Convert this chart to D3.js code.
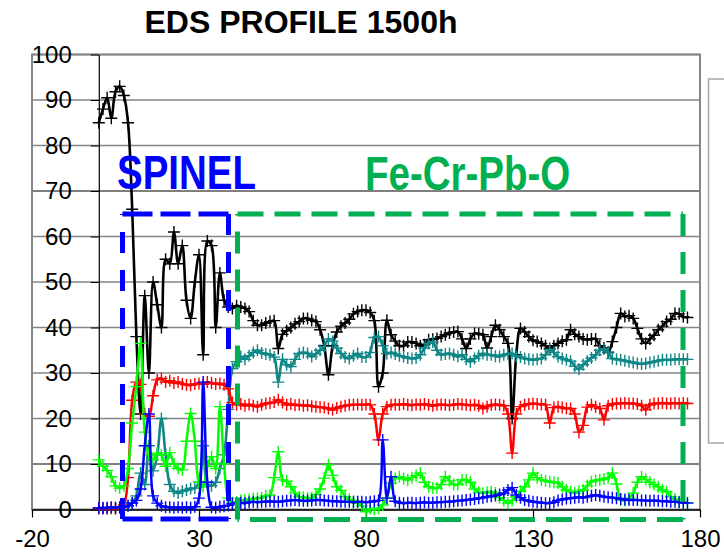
<!DOCTYPE html>
<html>
<head>
<meta charset="utf-8">
<script src="https://cdn.jsdelivr.net/npm/d3@7"></script>
<style>
  body { margin: 0; background: #fff; }
  svg { display: block; font-family: Arial, "Liberation Sans", sans-serif; }
</style>
</head>
<body>
<div class="container"></div>
<script>
// profile step (distance between two EDS points)
var xStep = 1.25;

var xTicks = [-20, 30, 80, 130, 180];
var yTicks = [0, 10, 20, 30, 40, 50, 60, 70, 80, 90, 100];

// values, one per point
var blackVals = [85, 88, 90.5, 86, 91.8, 93, 91, 85, 66, 38,
  21, 47, 30, 50, 45, 40, 55, 54, 61, 54,
  58, 46, 42, 50, 56, 34, 59, 58, 40, 52,
  46, 44.5, 44.2, 44.8, 44.5, 44.2, 43.5, 41.5, 40.5, 40.5,
  41, 41.3, 41.5, 35.4, 38.5, 39.3, 40, 40.8, 41.3, 42,
  42, 41.6, 41.3, 39.5, 36, 29.6, 36, 39, 40.3, 41,
  41.8, 43, 43.5, 43.8, 43.8, 43.3, 41.5, 27, 30, 41.6,
  38.4, 37, 36, 36, 36.8, 36.8, 36.5, 36, 36.2, 37.3,
  37.4, 37.6, 38, 38.4, 38.8, 39, 39.1, 37.5, 35.4, 37.5,
  38.7, 38.6, 38.4, 35.5, 38, 40.5, 39.5, 38, 36.5, 20,
  34, 39.8, 39, 38, 37.2, 36.9, 36.5, 36, 35.4, 36,
  36.5, 37, 37.3, 39.5, 38.5, 38, 37.5, 37.3, 37.5, 37.5,
  36, 35.5, 34.5, 36.9, 40, 43.1, 42.4, 42.6, 42, 39.8,
  37.5, 36.5, 37.5, 38.3, 39.5, 40.3, 41.3, 41.8, 43.1, 43,
  42.4, 42.2];

var tealVals = [0.3, 0.4, 0.3, 0.4, 0.3, 0.4, 0.5, 0.8, 1.5, 3,
  8, 5.5, 14, 8.5, 12, 20, 12, 5.5, 4, 3.6,
  4, 4.3, 4.6, 4.7, 6, 14, 5.5, 5.2, 6, 9,
  12, 22, 31, 32.5, 33.6, 33, 33.8, 34.5, 35, 34.4,
  34.2, 34, 33.5, 28, 33, 31.8, 31.4, 33, 34.3, 34.5,
  34.3, 33.6, 34.2, 35, 35.8, 37.5, 37, 35.5, 34.3, 33.5,
  33.2, 33.8, 34.3, 33.5, 33.5, 34.5, 37.8, 38, 36, 34.3,
  34.5, 34.2, 33.8, 33.6, 33.3, 33.2, 33.3, 34, 35.5, 36.5,
  36.8, 35, 34, 34.2, 34.3, 34, 33.6, 34, 33, 32.5,
  33.2, 33.8, 34.3, 34, 34, 33.7, 33.6, 34, 34.2, 34.3,
  33.7, 33.5, 33.2, 33, 32.9, 33, 33.2, 34, 35.2, 34.5,
  33.6, 33.2, 32.9, 32.6, 31.5, 30.8, 31.8, 32.6, 33.3, 34,
  35, 35.3, 34.6, 33.2, 33, 32.9, 32.7, 32.5, 32.3, 32.1,
  32, 32.1, 32.3, 32.5, 32.7, 32.9, 32.9, 32.9, 33, 33,
  33, 33];

var redVals = [0.2, 0.3, 0.2, 0.3, 0.2, 0.4, 1, 7, 24, 28,
  27.5, 21, 20.5, 25, 28.5, 28.8, 28, 28.3, 27.8, 28,
  27.6, 27.4, 27.3, 27.6, 27.7, 27.5, 28, 27.8, 27.6, 27.7,
  27.4, 26.5, 23.5, 23, 23.2, 22.8, 23.1, 22.8, 22.6, 23,
  23.3, 23.4, 23.6, 24.1, 23.5, 23, 23.2, 22.9, 23, 22.8,
  22.9, 22.7, 22.6, 22.5, 22.4, 22.2, 21.9, 22.3, 22.6, 22.8,
  23, 23, 23.1, 23, 23.1, 23, 21, 15.3, 21, 22.6,
  23, 23.1, 23, 23.2, 23, 22.9, 23.1, 23, 23.2, 23,
  22.8, 23, 23.1, 23, 22.9, 23, 23.2, 23.1, 23, 22.9,
  23, 22.8, 22.2, 22.6, 23, 23.1, 23, 22.8, 21, 12.4,
  21, 22.6, 23, 23.2, 23.3, 23.2, 23.1, 23, 19, 22.4,
  22.6, 22.4, 22.2, 22.2, 21, 17, 18.5, 22.5, 23, 22.6,
  22.2, 19.7, 22.8, 23.2, 23.3, 23.3, 23.4, 23.3, 23.3, 23.2,
  22.8, 21.9, 23, 23.3, 23.3, 23.4, 23.3, 23.3, 23.4, 23.3,
  23.4, 23.3];

var greenVals = [10.9, 9.5, 8.6, 7.2, 5.2, 4.7, 5.2, 9, 19, 27,
  36.5, 17, 12, 11, 12.4, 12, 9.5, 12.5, 10, 9,
  8.7, 15, 21.1, 15, 6, 5, 9.5, 11.6, 9, 22.6,
  10, 2.5, 1.5, 1.7, 2, 2.1, 2.2, 2.4, 2.5, 2.6,
  3, 3.2, 7, 12.7, 6.5, 6.2, 5, 3.6, 2.8, 2.7,
  2.5, 2.6, 3.3, 4.5, 6.9, 9.8, 7.5, 5, 4.2, 2.8,
  2.2, 1.8, 1.4, 0.8, -0.5, 0.2, 0, 0.3, 1, 2.5,
  5.8, 6.8, 7.2, 6.8, 6.5, 7, 7.5, 8, 6, 5,
  4.7, 4.7, 5.5, 7.2, 6.3, 5.5, 5.5, 6.5, 6.5, 6,
  4.5, 3.8, 3.6, 3.8, 3.9, 3.6, 2.6, 2, 1.4, 2,
  2.8, 4, 5, 6.5, 8, 7, 6.5, 6.3, 6.1, 6,
  5.8, 5, 4.3, 3.9, 3.6, 4, 4.3, 5.2, 6.1, 6.4,
  6.5, 6.7, 7, 8, 5.6, 2.1, 2, 2.5, 3.6, 6,
  7.2, 6.6, 6, 5.5, 5, 4.3, 3.9, 2.8, 2.3, 1.7,
  1.5, 1.5];

var blueVals = [0.4, 0.3, 0.4, 0.5, 0.4, 0.5, 0.6, 0.8, 1.4, 2,
  4.5, 14, 21, 3, 1.4, 0.8, 0.5, 0.5, 0.4, 0.5,
  0.4, 0.5, 0.4, 0.6, 2.5, 28, 6, 0.5, 0.4, 0.6,
  0.7, 0.9, 1.3, 1.4, 1.5, 1.4, 1.6, 1.7, 1.6, 1.7,
  1.7, 1.8, 1.7, 1.7, 1.8, 1.9, 2, 2.1, 2, 1.9,
  1.9, 2, 2.1, 2.1, 2, 1.9, 1.8, 1.8, 1.7, 1.7,
  1.7, 1.6, 1.7, 1.7, 1.6, 1.7, 1.8, 2, 15.3, 2.5,
  7.2, 1.8, 1.5, 1.4, 1.5, 1.5, 1.4, 1.5, 1.6, 1.5,
  1.5, 1.6, 1.6, 1.7, 1.7, 1.8, 1.9, 2, 2.1, 2.2,
  2.3, 2.5, 2.6, 2.8, 2.9, 3.1, 3.3, 3.6, 4.3, 4.8,
  3.2, 2.6, 2.1, 1.9, 1.7, 1.6, 1.5, 1.4, 1.4, 1.6,
  2, 2.2, 2.4, 2.5, 2.6, 2.7, 2.6, 2.8, 3, 3.2,
  3, 2.8, 2.7, 2.6, 2.5, 2.3, 2.2, 2.1, 2.1, 2.1,
  2, 2, 1.9, 2, 1.9, 1.8, 1.8, 1.7, 1.7, 1.6,
  1.5, 1.4];

var seriesList = [
  {vals: blackVals, color: "#000000", lw: 2.6},
  {vals: tealVals, color: "#0f8787", lw: 2.6},
  {vals: redVals, color: "#ff0000", lw: 2.5},
  {vals: greenVals, color: "#00ff00", lw: 2.5},
  {vals: blueVals, color: "#0000ff", lw: 2.5}
];

var width = 724, height = 554;
var svg = d3.select(".container").append("svg").attr("width", width).attr("height", height);

var x = d3.scaleLinear().domain([-20, 180]).range([32, 700]);
var y = d3.scaleLinear().domain([0, 100]).range([509.5, 54.5]);

// legend frame, cut by the right edge
svg.append("rect").attr("x", 708.5).attr("y", 79).attr("width", 40).attr("height", 364)
  .attr("fill", "#fff").attr("stroke", "#a6a6a6").attr("stroke-width", 1.5);

// horizontal grid
svg.selectAll(".grid").data(yTicks.slice(1)).enter().append("line")
  .attr("class", "grid")
  .attr("x1", x(-20)).attr("x2", x(180))
  .attr("y1", function(d){ return y(d); }).attr("y2", function(d){ return y(d); })
  .attr("stroke", function(d){ return (d == 70 || d == 10) ? "#000" : "#858585"; })
  .attr("stroke-width", function(d){ return (d == 70 || d == 10) ? 1 : 1.6; });

// plot frame
svg.append("rect").attr("x", x(-20)).attr("y", y(100))
  .attr("width", x(180) - x(-20)).attr("height", y(0) - y(100))
  .attr("fill", "none").attr("stroke", "#858585").attr("stroke-width", 2);

var plain = function(d){ return String(d); };

var yAxis = d3.axisLeft(y).tickValues(yTicks).tickFormat(plain).tickSizeInner(8).tickSizeOuter(0).tickPadding(19);
var gy = svg.append("g").attr("transform", "translate(" + x(0) + ",0)").call(yAxis);
gy.select(".domain").attr("stroke", "#000").attr("stroke-width", 1.2);
gy.selectAll(".tick line").attr("stroke", "#000");
gy.selectAll(".tick text").attr("font-size", 24).attr("fill", "#000")
  .attr("font-family", "Arial, 'Liberation Sans', sans-serif");

var xAxis = d3.axisBottom(x).tickValues(xTicks).tickFormat(plain).tickSizeInner(8).tickSizeOuter(0).tickPadding(12);
var gx = svg.append("g").attr("transform", "translate(0," + y(0) + ")").call(xAxis);
gx.select(".domain").attr("stroke", "#000").attr("stroke-width", 1.6);
gx.selectAll(".tick line").attr("stroke", "#000").attr("stroke-width", 1.2);
gx.selectAll(".tick text").attr("font-size", 24).attr("fill", "#000")
  .attr("font-family", "Arial, 'Liberation Sans', sans-serif");

var line = d3.line()
  .x(function(d){ return x(d[0]); })
  .y(function(d){ return y(d[1]); })
  .curve(d3.curveCatmullRom.alpha(0.5));

var plus = "M-6,0H6M0,-6V6";

seriesList.forEach(function(s){
  var pts = s.vals.map(function(v, i){ return [i * xStep, v]; });
  var g = svg.append("g");
  g.append("path").attr("d", line(pts)).attr("fill", "none")
    .attr("stroke", s.color).attr("stroke-width", s.lw).attr("stroke-linejoin", "round");
  g.selectAll("path.mk").data(pts).enter().append("path")
    .attr("class", "mk")
    .attr("d", plus)
    .attr("transform", function(d){ return "translate(" + x(d[0]) + "," + y(d[1]) + ")"; })
    .attr("stroke", s.color).attr("stroke-width", 1.4).attr("fill", "none");
});

// dashed zone boxes
function dashBox(x0, y0, x1, y1, color, hDash, vDash) {
  var g = svg.append("g").attr("stroke", color).attr("stroke-width", 5).attr("fill", "none");
  g.append("path").attr("d", "M" + x0 + "," + y0 + "H" + x1).attr("stroke-dasharray", hDash);
  g.append("path").attr("d", "M" + x1 + "," + y0 + "V" + y1).attr("stroke-dasharray", vDash);
  g.append("path").attr("d", "M" + x1 + "," + y1 + "H" + x0).attr("stroke-dasharray", hDash);
  g.append("path").attr("d", "M" + x0 + "," + y1 + "V" + y0).attr("stroke-dasharray", vDash);
}
dashBox(122.5, 214, 228.5, 519, "#0000ff", "30 8", "21 17");
dashBox(237.5, 214, 683, 519.5, "#00b050", "26 11", "22 16");

// texts
svg.append("text").attr("x", 301).attr("y", 33).attr("text-anchor", "middle")
  .attr("font-size", 32).attr("font-weight", "bold").attr("fill", "#000")
  .text("EDS PROFILE 1500h");

svg.append("text").attr("transform", "translate(117,189) scale(1,1.25)")
  .attr("font-size", 38.5).attr("font-weight", "bold").attr("fill", "#0000ff")
  .text("SPINEL");

svg.append("text").attr("transform", "translate(365,190) scale(1,1.25)")
  .attr("font-size", 38.5).attr("font-weight", "bold").attr("fill", "#00b050")
  .text("Fe-Cr-Pb-O");
</script>
</body>
</html>
